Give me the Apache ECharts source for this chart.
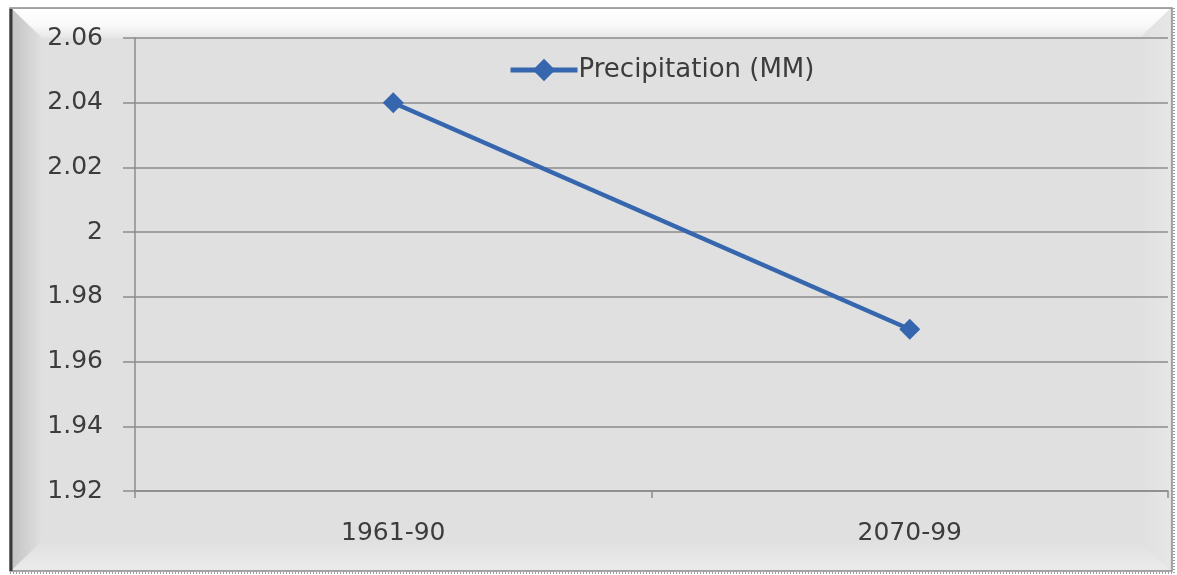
<!DOCTYPE html>
<html>
<head>
<meta charset="utf-8">
<script src="https://cdn.jsdelivr.net/npm/echarts@6/dist/echarts.min.js"></script>
<style>
  html, body { margin: 0; padding: 0; background: #ffffff; }
  #chart { width: 1177px; height: 575px; }
</style>
</head>
<body>
<div id="chart"></div>
<script>
// Periods and mean precipitation values
const periods = ['1961-90', '2070-99'];
const precipitation = [2.04, 1.97];
const seriesName = 'Precipitation (MM)';

// Value axis range
const yMin = 1.92;
const yMax = 2.06;
const yStep = 0.02;

const lineBlue = '#3566ae';
const gridGray = '#8c8c8c';
const textColor = '#3c3c3c';
const fontFamily = 'DejaVu Sans';

const chart = echarts.init(document.getElementById('chart'));

// Framed panel with bevelled edges behind the plot
const fx0 = 10, fy0 = 8, fx1 = 1172, fy1 = 571, bevel = 30;

const option = {
  animation: false,
  backgroundColor: '#ffffff',
  graphic: [
    { type: 'rect', z: -20, shape: { x: fx0, y: fy0, width: fx1 - fx0, height: fy1 - fy0 },
      style: { fill: '#e0e0e0', stroke: '#8a8a8a', lineWidth: 1.5 } },
    // top bevel
    { type: 'polygon', z: -19,
      shape: { points: [[fx0 + 2, fy0 + 1], [fx1 - 2, fy0 + 1], [fx1 - 2 - bevel, fy0 + bevel], [fx0 + 2 + bevel, fy0 + bevel]] },
      style: { fill: new echarts.graphic.LinearGradient(0, 0, 0, 1, [
        { offset: 0, color: '#ffffff' }, { offset: 0.6, color: '#f8f8f8' }, { offset: 1, color: '#e6e6e6' }]) } },
    // left bevel
    { type: 'polygon', z: -19,
      shape: { points: [[fx0 + 2, fy0 + 1], [fx0 + 2 + bevel, fy0 + bevel], [fx0 + 2 + bevel, fy1 - bevel], [fx0 + 2, fy1 - 1]] },
      style: { fill: new echarts.graphic.LinearGradient(0, 0, 1, 0, [
        { offset: 0, color: '#c4c4c4' }, { offset: 1, color: '#e0e0e0' }]) } },
    // bottom bevel
    { type: 'polygon', z: -19,
      shape: { points: [[fx0 + 2, fy1 - 1], [fx0 + 2 + bevel, fy1 - bevel], [fx1 - 2 - bevel, fy1 - bevel], [fx1 - 2, fy1 - 1]] },
      style: { fill: new echarts.graphic.LinearGradient(0, 0, 0, 1, [
        { offset: 0, color: '#e0e0e0' }, { offset: 1, color: '#ebebeb' }]) } },
    // right bevel
    { type: 'polygon', z: -19,
      shape: { points: [[fx1 - 2, fy0 + 1], [fx1 - 2 - bevel, fy0 + bevel], [fx1 - 2 - bevel, fy1 - bevel], [fx1 - 2, fy1 - 1]] },
      style: { fill: new echarts.graphic.LinearGradient(0, 0, 1, 0, [
        { offset: 0, color: '#e0e0e0' }, { offset: 1, color: '#e6e6e6' }]) } },
    // dark left edge
    { type: 'line', z: -18, shape: { x1: fx0 + 1, y1: fy0 + 1, x2: fx0 + 1, y2: fy1 },
      style: { stroke: '#3a3a3a', lineWidth: 3 } },
    // dotted right and bottom edges
    { type: 'line', z: -18, shape: { x1: fx1 + 2, y1: fy0, x2: fx1 + 2, y2: fy1 + 2 },
      style: { stroke: '#9a9a9a', lineWidth: 2, lineDash: [1, 2] } },
    { type: 'line', z: -18, shape: { x1: fx0, y1: fy1 + 2, x2: fx1 + 2, y2: fy1 + 2 },
      style: { stroke: '#9a9a9a', lineWidth: 2, lineDash: [1, 2] } }
  ],
  legend: {
    show: true,
    left: 503,
    top: 52,
    itemWidth: 67,
    itemHeight: 28,
    itemGap: 10,
    lineStyle: { width: 5 },
    textStyle: { fontFamily: fontFamily, fontSize: 26, color: textColor, padding: [0, 0, 0, -4] },
    data: [seriesName]
  },
  grid: { left: 135, right: 9, top: 38, bottom: 84, containLabel: false },
  xAxis: {
    type: 'category',
    data: periods,
    boundaryGap: true,
    axisLine: { show: true, lineStyle: { color: gridGray, width: 1.5 } },
    axisTick: { show: true, interval: 0, length: 7, lineStyle: { color: gridGray, width: 1.5 } },
    axisLabel: { fontFamily: fontFamily, fontSize: 25, color: textColor, margin: 30 },
    splitLine: { show: false }
  },
  yAxis: {
    type: 'value',
    min: yMin,
    max: yMax,
    interval: yStep,
    axisLine: { show: true, lineStyle: { color: gridGray, width: 1.5 } },
    axisTick: { show: true, length: 12, lineStyle: { color: gridGray, width: 1.5 } },
    axisLabel: { fontFamily: fontFamily, fontSize: 25, color: textColor, margin: 32,
      formatter: v => String(parseFloat(v.toFixed(2))) },
    splitLine: { show: true, lineStyle: { color: gridGray, width: 1.5 } }
  },
  series: [{
    name: seriesName,
    type: 'line',
    data: precipitation,
    symbol: 'diamond',
    symbolSize: 21,
    showAllSymbol: true,
    lineStyle: { color: lineBlue, width: 4.5 },
    itemStyle: { color: lineBlue },
    z: 5
  }]
};

chart.setOption(option);
</script>
</body>
</html>
